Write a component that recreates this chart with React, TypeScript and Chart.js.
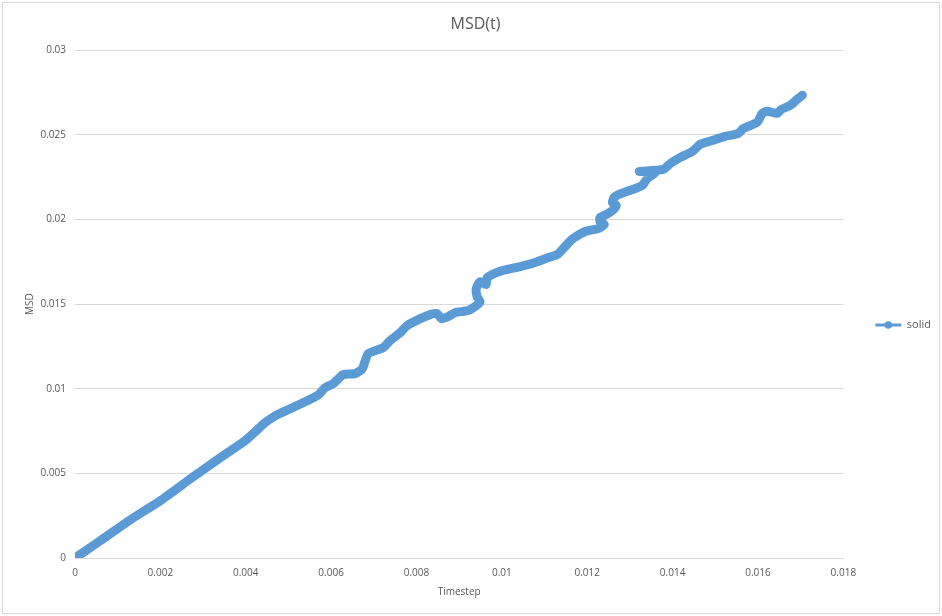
import React, { useEffect, useRef } from "react";
import { Chart, registerables } from "chart.js";

Chart.register(...registerables);

const seriesName = "solid";
const timestep = [
  0, 0.000586, 0.00129, 0.00199, 0.0027, 0.0034, 0.00398, 0.00422, 0.00445, 0.00469,
  0.00504, 0.00544, 0.0057, 0.00586, 0.00605, 0.00628, 0.00656, 0.00673, 0.00687, 0.00722,
  0.00738, 0.00762, 0.00778, 0.00809, 0.00832, 0.00848, 0.00858, 0.00874, 0.00891, 0.00921,
  0.0094, 0.00949, 0.00942, 0.0094, 0.00949, 0.00963, 0.00966, 0.01001, 0.01043, 0.01078,
  0.01109, 0.0113, 0.01148, 0.01167, 0.01195, 0.01226, 0.0124, 0.0123, 0.0123, 0.01245,
  0.01259, 0.01268, 0.01259, 0.01263, 0.0128, 0.01313, 0.01329, 0.01341, 0.01359, 0.01322,
  0.01378, 0.01395, 0.01418, 0.01446, 0.01465, 0.01493, 0.01523, 0.01554, 0.01566, 0.01598,
  0.0161, 0.01622, 0.01645, 0.01655, 0.01676, 0.01692, 0.01704,
];
const msd = [
  0, 0.00101, 0.00225, 0.00337, 0.00467, 0.00592, 0.00692, 0.00746, 0.00799, 0.0084,
  0.00882, 0.00929, 0.00964, 0.01006, 0.0103, 0.01083, 0.01089, 0.01118, 0.01207, 0.01243,
  0.01284, 0.01331, 0.01373, 0.01414, 0.01438, 0.01444, 0.01414, 0.01426, 0.0145, 0.01462,
  0.01491, 0.01515, 0.01544, 0.01592, 0.01633, 0.01615, 0.01657, 0.01698, 0.01722, 0.01746,
  0.01775, 0.01793, 0.0184, 0.01888, 0.01929, 0.01947, 0.0197, 0.01988, 0.02012, 0.0203,
  0.02053, 0.02083, 0.021, 0.0213, 0.02154, 0.02183, 0.02201, 0.02243, 0.02278, 0.02284,
  0.02296, 0.02331, 0.02367, 0.02402, 0.02444, 0.02467, 0.02491, 0.02509, 0.02538, 0.02574,
  0.02627, 0.02639, 0.02627, 0.02651, 0.02675, 0.0271, 0.02734,
];
const xTickLabels = ["0", "0.002", "0.004", "0.006", "0.008", "0.01", "0.012", "0.014", "0.016", "0.018"];
const yTickLabels = ["0", "0.005", "0.01", "0.015", "0.02", "0.025", "0.03"];

const LINE = "#5B9BD5";
const TEXT = "#595959";
const GRID = "#D9D9D9";
const FONT = "'Open Sans', 'Noto Sans', sans-serif";

const legendDot = {
  id: "legendDot",
  afterDraw(chart: any) {
    const lg = chart.legend;
    if (!lg || !lg.legendHitBoxes) return;
    const ctx = chart.ctx;
    const bw = lg.options.labels.boxWidth;
    lg.legendHitBoxes.forEach((hb: any) => {
      ctx.save();
      ctx.fillStyle = LINE;
      ctx.beginPath();
      ctx.arc(hb.left + bw / 2, hb.top + hb.height / 2, 3.8, 0, Math.PI * 2);
      ctx.fill();
      ctx.restore();
    });
  },
};

export default function App() {
  const ref = useRef<HTMLCanvasElement | null>(null);
  useEffect(() => {
    if (!ref.current) return;
    Chart.defaults.font.family = FONT;
    Chart.defaults.color = TEXT;
    const points = timestep.map((t, i) => ({ x: t, y: msd[i] }));
    const chart = new Chart(ref.current, {
      type: "scatter",
      data: {
        datasets: [
          {
            label: seriesName,
            data: points,
            showLine: true,
            borderColor: LINE,
            backgroundColor: LINE,
            borderWidth: 9,
            borderCapStyle: "round",
            borderJoinStyle: "round",
            tension: 0.2,
            pointRadius: 0,
            pointHoverRadius: 0,
          } as any,
        ],
      },
      options: {
        responsive: false,
        animation: false,
        layout: { padding: { left: 10, right: 1, top: 0, bottom: 10 } },
        plugins: {
          title: {
            display: true,
            text: "MSD(t)",
            color: TEXT,
            font: { size: 16, weight: "normal" as any, family: FONT },
            padding: { top: 15, bottom: 16 },
          },
          legend: {
            position: "right",
            title: {
              display: true,
              text: " ",
              font: { size: 10, family: FONT },
              padding: { top: 32, bottom: 0 },
            },
            labels: {
              boxWidth: 26,
              boxHeight: 3,
              padding: 32,
              color: TEXT,
              font: { size: 11, family: FONT },
              generateLabels: (c: any) => {
                const items = Chart.defaults.plugins.legend.labels.generateLabels(c);
                items.forEach((it: any) => {
                  it.lineWidth = 0;
                  it.fillStyle = LINE;
                  it.strokeStyle = LINE;
                });
                return items;
              },
            },
          },
          tooltip: { enabled: false },
        },
        scales: {
          x: {
            type: "linear",
            min: 0,
            max: 0.018,
            afterFit: (s: any) => {
              s.height = 48;
            },
            afterBuildTicks: (s: any) => {
              s.ticks = xTickLabels.map((_, i) => ({ value: i * 0.002 }));
            },
            ticks: {
              color: TEXT,
              font: { size: 10, family: FONT },
              padding: 9,
              maxRotation: 0,
              callback: (_v: any, i: number) => xTickLabels[i],
            },
            grid: { display: false, drawTicks: false },
            border: { display: true, color: GRID, width: 1 },
            title: {
              display: true,
              text: "Timestep",
              color: TEXT,
              font: { size: 10, family: FONT },
              padding: { top: 0, bottom: 8 },
            },
          },
          y: {
            type: "linear",
            min: 0,
            max: 0.03,
            afterFit: (s: any) => {
              s.width = 65;
            },
            afterBuildTicks: (s: any) => {
              s.ticks = yTickLabels.map((_, i) => ({ value: i * 0.005 }));
            },
            ticks: {
              color: TEXT,
              font: { size: 10, family: FONT },
              padding: 9,
              callback: (_v: any, i: number) => yTickLabels[i],
            },
            grid: { color: GRID, drawTicks: false, lineWidth: 1 },
            border: { display: false },
            title: {
              display: true,
              text: "MSD",
              color: TEXT,
              font: { size: 10, family: FONT },
              padding: { top: 14, bottom: 0 },
            },
          },
        },
      },
      plugins: [legendDot],
    });
    return () => chart.destroy();
  }, []);

  return (
    <div style={{ position: "fixed", left: 0, top: 0, width: 942, height: 616, background: "#fff" }}>
      <canvas ref={ref} width={942} height={616} style={{ position: "absolute", left: 0, top: 0 }} />
      <div
        style={{
          position: "absolute",
          left: 2,
          top: 2,
          right: 2,
          bottom: 2,
          border: "1px solid #D9D9D9",
          pointerEvents: "none",
        }}
      />
    </div>
  );
}
